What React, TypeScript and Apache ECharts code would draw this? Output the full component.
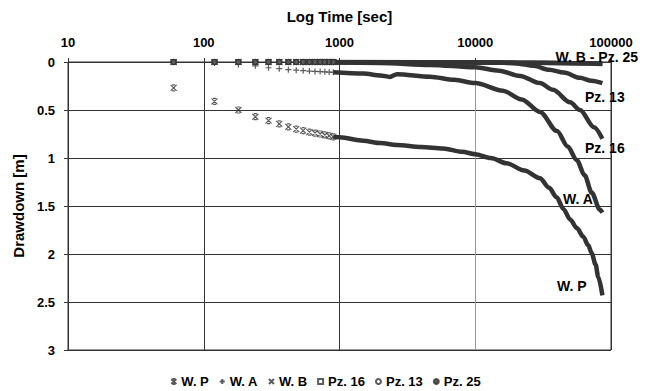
import React, { useEffect, useRef } from "react";
import * as echarts from "echarts";

// ---- Data ----
const X_TICKS = [10, 100, 1000, 10000, 100000];
const Y_TICKS = [0, 0.5, 1, 1.5, 2, 2.5, 3];

// early, individually visible readings (seconds)
const T_EARLY = [60, 120, 180, 240, 300, 360, 420, 480, 540, 600, 660, 720, 780, 840, 900];
const WP_EARLY = [0.27, 0.41, 0.5, 0.57, 0.61, 0.645, 0.675, 0.7, 0.715, 0.73, 0.74, 0.75, 0.76, 0.77, 0.78];
const WA_EARLY = [0.0, 0.01, 0.025, 0.04, 0.06, 0.07, 0.08, 0.085, 0.09, 0.095, 0.098, 0.1, 0.102, 0.105, 0.107];
const WB_EARLY = [0, 0, 0, 0, 0, 0, 0, 0, 0, 0, 0, 0, 0, 0, 0];
const PZ16_EARLY = [0, 0, 0, 0, 0, 0, 0, 0, 0, 0, 0, 0, 0, 0, 0];
const PZ13_EARLY = [0, 0, 0, 0, 0, 0, 0, 0, 0, 0, 0, 0, 0, 0, 0];
const PZ25_EARLY = [0, 0, 0, 0, 0, 0, 0, 0, 0, 0, 0, 0, 0, 0, 0];

// later readings, so dense that the markers merge into a band: [time, drawdown]
const WP_LATE = [
  [900, 0.78], [1000, 0.785], [1500, 0.82], [2000, 0.845], [2650, 0.865], [4000, 0.885],
  [5800, 0.9], [8000, 0.935], [10000, 0.96], [13000, 1.0], [17000, 1.055], [23000, 1.13],
  [30000, 1.21], [35000, 1.31], [39800, 1.41], [44600, 1.53], [50000, 1.64], [56000, 1.73],
  [62500, 1.82], [68000, 1.91], [72000, 1.99], [77000, 2.11], [80600, 2.24], [86400, 2.43],
];
const WA_LATE = [
  [900, 0.107], [1500, 0.12], [2000, 0.14], [2350, 0.155], [2650, 0.128], [4650, 0.153],
  [7000, 0.185], [10000, 0.22], [16000, 0.3], [22000, 0.39], [30000, 0.52], [40000, 0.72],
  [48000, 0.88], [55800, 1.02], [64000, 1.18], [72000, 1.36], [83000, 1.54], [86400, 1.57],
];
const WB_LATE = [[900, 0], [10000, 0.005], [86400, 0.015]];
const PZ16_LATE = [
  [900, 0.005], [2000, 0.01], [4650, 0.03], [10000, 0.055], [15000, 0.09], [21400, 0.145],
  [30000, 0.22], [37400, 0.29], [50000, 0.42], [59100, 0.5], [75000, 0.68], [86400, 0.8],
];
const PZ13_LATE = [
  [900, 0], [15000, 0.005], [20000, 0.015], [27000, 0.04], [35000, 0.08], [45000, 0.11],
  [59000, 0.165], [72000, 0.195], [86400, 0.22],
];
const PZ25_LATE = [[900, 0], [20000, 0.005], [86400, 0.02]];

const NAMES = ["W. P", "W. A", "W. B", "Pz. 16", "Pz. 13", "Pz. 25"];

const INK = "#333";
const FONT = "'Liberation Sans', Arial, sans-serif";

const SYM_WP = "path://M0,0L8,8M8,0L0,8M2,0L6,0M2,8L6,8";
const SYM_WA = "path://M4,0L4,8M0,4L8,4";
const SYM_WB = "path://M0,0L8,8M8,0L0,8";

const SERIES_DEF = [
  { name: NAMES[0], early: WP_EARLY, late: WP_LATE, symbol: SYM_WP, size: 6, fill: "transparent" },
  { name: NAMES[1], early: WA_EARLY, late: WA_LATE, symbol: SYM_WA, size: 6, fill: "transparent" },
  { name: NAMES[2], early: WB_EARLY, late: WB_LATE, symbol: SYM_WB, size: 6, fill: "transparent" },
  { name: NAMES[3], early: PZ16_EARLY, late: PZ16_LATE, symbol: "rect", size: 5, fill: "#fff" },
  { name: NAMES[4], early: PZ13_EARLY, late: PZ13_LATE, symbol: "circle", size: 5, fill: "#fff" },
  { name: NAMES[5], early: PZ25_EARLY, late: PZ25_LATE, symbol: "circle", size: 5, fill: INK },
];

const LABELS = [
  { text: "W. B - Pz. 25", x: 638, y: 57, align: "right" },
  { text: "Pz. 13", x: 585, y: 97, align: "left" },
  { text: "Pz. 16", x: 585, y: 148, align: "left" },
  { text: "W. A", x: 563, y: 199, align: "left" },
  { text: "W. P", x: 557, y: 286, align: "left" },
];

function buildOption() {
  const series: any[] = [];
  SERIES_DEF.forEach((s) => {
    series.push({
      type: "scatter",
      name: s.name,
      symbol: s.symbol,
      symbolSize: s.size,
      itemStyle: { color: s.fill, borderColor: INK, borderWidth: 1.2 },
      data: T_EARLY.map((t, i) => [t, s.early[i]]),
      z: 3,
    });
  });
  SERIES_DEF.forEach((s) => {
    series.push({
      type: "line",
      name: s.name,
      showSymbol: false,
      symbol: "none",
      smooth: 0.3,
      smoothMonotone: "x",
      lineStyle: { color: INK, width: 4.5 },
      itemStyle: { color: INK },
      data: s.late,
      z: 2,
    });
  });

  return {
    animation: false,
    backgroundColor: "#fff",
    grid: {
      left: 68,
      top: 62,
      width: 543,
      height: 288,
      show: true,
      borderColor: INK,
      borderWidth: 1,
      outerBoundsMode: "none",
    },
    xAxis: {
      type: "log",
      logBase: 10,
      min: 10,
      max: 100000,
      position: "top",
      name: "Log Time [sec]",
      nameLocation: "middle",
      nameGap: 38,
      nameTextStyle: { fontFamily: FONT, fontWeight: "bold", fontSize: 15, color: "#000" },
      axisLine: { show: true, lineStyle: { color: INK, width: 1 } },
      axisTick: { show: true, length: 4, lineStyle: { color: INK } },
      minorTick: { show: false },
      axisLabel: {
        margin: 13,
        lineHeight: 13,
        fontFamily: FONT,
        fontWeight: "bold",
        fontSize: 13,
        color: "#000",
        formatter: (v: number) => {
          const r = X_TICKS.find((t) => Math.abs(t - v) / t < 1e-6);
          return r !== undefined ? String(r) : "";
        },
      },
      splitLine: { show: true, lineStyle: { color: [INK, INK, INK, "#999", INK], width: 1 } },
    },
    yAxis: {
      type: "value",
      inverse: true,
      min: Y_TICKS[0],
      max: Y_TICKS[Y_TICKS.length - 1],
      interval: 0.5,
      name: "Drawdown [m]",
      nameLocation: "middle",
      nameRotate: 90,
      nameGap: 40,
      nameTextStyle: { fontFamily: FONT, fontWeight: "bold", fontSize: 15, color: "#000" },
      axisLine: { show: true, lineStyle: { color: INK, width: 1 } },
      axisTick: { show: true, length: 4, lineStyle: { color: INK } },
      axisLabel: {
        margin: 13,
        fontFamily: FONT,
        fontWeight: "bold",
        fontSize: 13,
        color: "#000",
      },
      splitLine: { show: true, lineStyle: { color: INK, width: 1 } },
    },
    legend: {
      left: "center",
      top: 375,
      padding: 0,
      itemWidth: 5,
      itemHeight: 5,
      itemGap: 10,
      selectedMode: false,
      textStyle: { fontFamily: FONT, fontWeight: "bold", fontSize: 13, color: "#000" },
      data: SERIES_DEF.map((s) => ({ name: s.name, icon: s.symbol })),
    },
    graphic: LABELS.map((l) => ({
      type: "text",
      x: l.x,
      y: l.y,
      style: {
        text: l.text,
        fill: "#000",
        font: `bold 14px ${FONT}`,
        lineHeight: 14,
        textAlign: l.align,
        textVerticalAlign: "middle",
      },
      z: 10,
    })),
    series,
  };
}

export default function App() {
  const ref = useRef<HTMLDivElement>(null);
  useEffect(() => {
    if (!ref.current) return;
    const chart = echarts.init(ref.current, null, { renderer: "svg" });
    chart.setOption(buildOption() as any);
    return () => chart.dispose();
  }, []);
  return (
    <div
      ref={ref}
      style={{ position: "absolute", left: 0, top: 0, width: 651, height: 391, background: "#fff" }}
    />
  );
}
